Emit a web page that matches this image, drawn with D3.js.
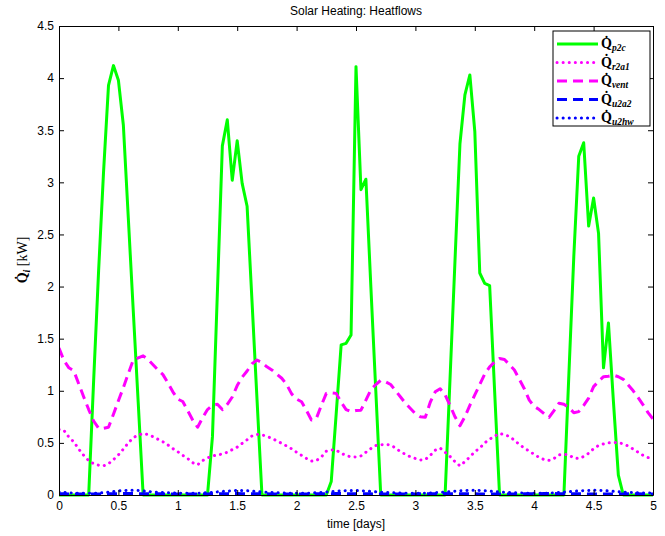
<!DOCTYPE html>
<html><head><meta charset="utf-8">
<script src="https://cdn.jsdelivr.net/npm/d3@7"></script>
<style>body{margin:0;background:#fff}svg{display:block}</style>
</head><body><svg id="c" width="665" height="536"></svg>
<script>
// hourly samples, 0..120 h (0..5 days)
const qP2c = [
0,0,0,0,0,0,0,1.1,2.15,3.1,
3.93,4.12,3.98,3.55,2.66,1.77,0.89,0,0,0,
0,0,0,0,0,0,0,0,0,0,
0,0.56,1.95,3.35,3.60,3.02,3.40,2.99,2.77,1.85,
0.92,0,0,0,0,0,0,0,0,0,
0,0,0,0,0,0.13,0.78,1.44,1.455,1.535,
4.11,2.93,3.03,2.0,1.0,0,0,0,0,0,
0,0,0,0,0,0,0,0,0,1.12,
2.25,3.37,3.84,4.03,3.49,2.13,2.03,2.01,1.0,0,
0,0,0,0,0,0,0,0,0,0,
0,0,0,1.15,2.29,3.25,3.38,2.58,2.85,2.51,
1.22,1.65,0.9,0.19,0,0,0,0,0,0,0];
const qR2a1 = [
0.63,0.62,0.555,0.51,0.44,0.38,0.33,0.30,0.286,0.28,
0.30,0.34,0.385,0.44,0.50,0.55,0.575,0.59,0.58,0.56,
0.535,0.51,0.48,0.445,0.415,0.38,0.35,0.31,0.29,0.33,
0.355,0.375,0.383,0.394,0.41,0.435,0.46,0.495,0.53,0.567,
0.582,0.576,0.563,0.543,0.52,0.495,0.47,0.443,0.41,0.38,
0.35,0.325,0.33,0.365,0.42,0.432,0.43,0.40,0.38,0.365,
0.364,0.375,0.41,0.445,0.475,0.482,0.485,0.48,0.45,0.415,
0.39,0.366,0.35,0.336,0.34,0.38,0.43,0.45,0.41,0.37,
0.32,0.28,0.32,0.366,0.415,0.45,0.50,0.535,0.565,0.59,
0.578,0.562,0.525,0.485,0.45,0.42,0.39,0.36,0.34,0.333,
0.35,0.385,0.39,0.384,0.355,0.35,0.37,0.40,0.445,0.475,
0.49,0.50,0.503,0.503,0.49,0.47,0.44,0.41,0.38,0.36,0.34];
const qVent = [
1.41,1.29,1.22,1.19,1.065,0.94,0.82,0.71,0.64,0.64,
0.65,0.775,0.905,1.03,1.165,1.295,1.315,1.335,1.30,1.25,
1.20,1.155,1.075,0.99,0.92,0.897,0.81,0.72,0.65,0.74,
0.82,0.86,0.87,0.82,0.87,0.94,1.05,1.13,1.19,1.26,
1.295,1.27,1.23,1.20,1.16,1.12,1.06,0.97,0.92,0.895,
0.81,0.72,0.736,0.86,0.975,0.98,0.975,0.89,0.82,0.80,
0.81,0.814,0.91,1.01,1.06,1.10,1.085,1.06,1.00,0.94,
0.88,0.83,0.78,0.75,0.745,0.89,0.99,1.02,0.96,0.86,
0.75,0.665,0.75,0.86,0.96,1.06,1.16,1.23,1.275,1.31,
1.30,1.25,1.20,1.11,1.02,0.91,0.85,0.82,0.78,0.745,
0.81,0.88,0.87,0.84,0.79,0.80,0.86,0.93,1.04,1.09,
1.135,1.14,1.15,1.135,1.11,1.055,1.00,0.935,0.865,0.79,0.73];
const qU2a2 = [
0.012,0.011,0.010,0.010,0.009,0.009,0.009,0.009,0.010,0.010,
0.011,0.012,0.013,0.014,0.014,0.014,0.013,0.013,0.012,0.012,
0.011,0.011,0.010,0.010,0.010,0.009,0.009,0.009,0.009,0.010,
0.010,0.011,0.012,0.013,0.013,0.014,0.014,0.013,0.013,0.012,
0.012,0.011,0.011,0.010,0.010,0.009,0.009,0.009,0.009,0.009,
0.010,0.010,0.011,0.012,0.013,0.013,0.014,0.014,0.013,0.013,
0.012,0.012,0.011,0.011,0.010,0.010,0.009,0.009,0.009,0.009,
0.009,0.010,0.010,0.011,0.012,0.013,0.013,0.014,0.014,0.013,
0.013,0.012,0.012,0.011,0.011,0.010,0.010,0.009,0.009,0.009,
0.009,0.009,0.010,0.010,0.011,0.012,0.013,0.013,0.014,0.014,
0.014,0.013,0.013,0.012,0.012,0.011,0.011,0.010,0.010,0.009,
0.009,0.009,0.009,0.010,0.010,0.011,0.011,0.011,0.010,0.010,0.010];
const qU2hw = [
0.030,0.025,0.020,0.018,0.017,0.016,0.016,0.017,0.019,0.022,
0.027,0.033,0.039,0.043,0.045,0.045,0.043,0.039,0.034,0.030,
0.026,0.023,0.021,0.019,0.018,0.017,0.016,0.016,0.017,0.019,
0.022,0.026,0.030,0.034,0.038,0.041,0.043,0.043,0.041,0.037,
0.033,0.029,0.026,0.023,0.021,0.019,0.018,0.017,0.016,0.016,
0.017,0.019,0.022,0.025,0.029,0.033,0.037,0.040,0.042,0.043,
0.043,0.041,0.038,0.034,0.030,0.027,0.024,0.022,0.020,0.018,
0.017,0.016,0.016,0.016,0.017,0.019,0.022,0.025,0.029,0.033,
0.037,0.040,0.043,0.045,0.045,0.044,0.041,0.037,0.033,0.029,
0.026,0.023,0.021,0.019,0.018,0.017,0.016,0.016,0.017,0.019,
0.021,0.024,0.028,0.032,0.036,0.040,0.042,0.044,0.045,0.044,
0.042,0.039,0.035,0.031,0.028,0.025,0.023,0.021,0.020,0.019,0.018];

const xTicks = [0,0.5,1,1.5,2,2.5,3,3.5,4,4.5,5];
const yTicks = [0,0.5,1,1.5,2,2.5,3,3.5,4,4.5];
const seriesNames = ["p2c","r2a1","vent","u2a2","u2hw"];

const svg = d3.select("#c");
const L=59,R=653,T=26,B=495;
const x = d3.scaleLinear().domain([0,5]).range([L,R]);
const y = d3.scaleLinear().domain([0,4.5]).range([B,T]);
const font = "Liberation Sans, Arial, Helvetica, sans-serif";

const series = [
  {name:seriesNames[0], data:qP2c, color:"#00ff00", dash:null, cap:"butt", w:3},
  {name:seriesNames[1], data:qR2a1, color:"#ff00ff", dash:"0.1 6", cap:"round", w:3},
  {name:seriesNames[2], data:qVent, color:"#ff00ff", dash:"10 6", cap:"butt", w:3},
  {name:seriesNames[3], data:qU2a2, color:"#0000ff", dash:"10 6", cap:"butt", w:3},
  {name:seriesNames[4], data:qU2hw, color:"#0000ff", dash:"0.1 6", cap:"round", w:3}
];

const clip = svg.append("defs").append("clipPath").attr("id","pc")
  .append("rect").attr("x",L).attr("y",T-2).attr("width",R-L).attr("height",B-T+4);

const line = d3.line().x((d,i)=>x(i/24)).y(d=>y(d));
const g = svg.append("g").attr("clip-path","url(#pc)");
// draw blue first, then magenta, then green on top? reference: green drawn first
series.forEach(s=>{
  g.append("path").attr("d",line(s.data)).attr("fill","none")
   .attr("stroke",s.color).attr("stroke-width",s.w)
   .attr("stroke-dasharray",s.dash).attr("stroke-linecap",s.cap)
   .attr("stroke-linejoin","round");
});

function styleAxis(sel){
  sel.selectAll(".domain").attr("stroke","#000").attr("stroke-width",1);
  sel.selectAll(".tick line").attr("stroke","#000");
  sel.selectAll("text").attr("font-family",font).attr("font-size",12).attr("fill","#000");
}
svg.append("g").attr("transform",`translate(0,${B})`)
  .call(d3.axisBottom(x).tickValues(xTicks).tickFormat(d3.format("")).tickSizeInner(-5).tickSizeOuter(0).tickPadding(6))
  .call(styleAxis);
svg.append("g").attr("transform",`translate(0,${T})`)
  .call(d3.axisTop(x).tickValues(xTicks).tickFormat("").tickSizeInner(-5).tickSizeOuter(0))
  .call(styleAxis);
svg.append("g").attr("transform",`translate(${L},0)`)
  .call(d3.axisLeft(y).tickValues(yTicks).tickFormat(d3.format("")).tickSizeInner(-5).tickSizeOuter(0).tickPadding(5))
  .call(styleAxis);
svg.append("g").attr("transform",`translate(${R},0)`)
  .call(d3.axisRight(y).tickValues(yTicks).tickFormat("").tickSizeInner(-5).tickSizeOuter(0))
  .call(styleAxis);

svg.append("text").attr("x",(L+R)/2).attr("y",15).attr("text-anchor","middle")
  .attr("font-family",font).attr("font-size",12).text("Solar Heating: Heatflows");
svg.append("text").attr("x",(L+R)/2).attr("y",528).attr("text-anchor","middle")
  .attr("font-family",font).attr("font-size",12).text("time [days]");

const serif = "Liberation Serif, DejaVu Serif, serif";
const yl = svg.append("text").attr("transform","translate(27,260) rotate(-90)")
  .attr("text-anchor","middle").attr("font-family",serif).attr("font-weight","bold").attr("font-size",14);
yl.append("tspan").text("Q\u0307");
yl.append("tspan").attr("font-size",10).attr("font-style","italic").attr("dy",3).text("i");
yl.append("tspan").attr("dy",-3).attr("font-weight","normal").text(" [kW]");

// legend
const lg = svg.append("g");
lg.append("rect").attr("x",553).attr("y",31).attr("width",97).attr("height",95)
  .attr("fill","#fff").attr("stroke","#000").attr("stroke-width",1);
series.forEach((s,i)=>{
  const yy = 44 + i*18.5;
  lg.append("line").attr("x1",557).attr("x2",598).attr("y1",yy).attr("y2",yy)
    .attr("stroke",s.color).attr("stroke-width",s.w)
    .attr("stroke-dasharray",s.dash).attr("stroke-linecap",s.cap);
  const t = lg.append("text").attr("x",601).attr("y",yy+4).attr("font-family",serif)
    .attr("font-weight","bold").attr("font-size",14);
  t.append("tspan").text("Q\u0307");
  t.append("tspan").attr("font-size",9.5).attr("font-style","italic").attr("dy",3).text(s.name);
});
</script></body></html>
